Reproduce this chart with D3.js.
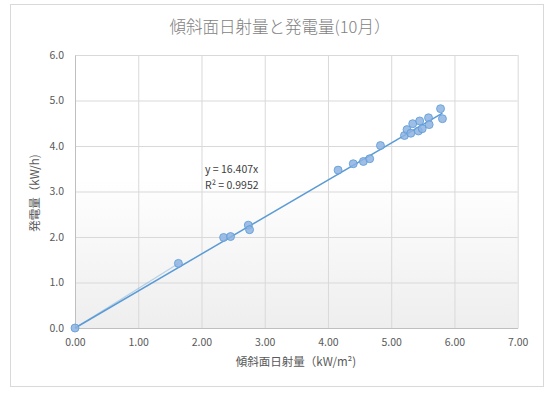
<!DOCTYPE html>
<html>
<head>
<meta charset="utf-8">
<script src="https://cdn.jsdelivr.net/npm/d3@7"></script>
<style>
    body { margin: 0; background: #fff; }
    text { font-family: "Noto Sans CJK JP", "Noto Sans", sans-serif; }
</style>
</head>
<body>
<div id="chart"></div>
<script>
// irradiance (kW/m2) vs generation (kW/h), October
var irradiance = [0, 1.635, 2.35, 2.46, 2.74, 2.76, 4.16, 4.40, 4.56, 4.66, 4.83,
    5.21, 5.25, 5.31, 5.34, 5.43, 5.45, 5.49, 5.59, 5.60, 5.78, 5.81];
var generation = [0, 1.42, 1.99, 2.01, 2.26, 2.16, 3.47, 3.61, 3.66, 3.72, 4.01,
    4.23, 4.36, 4.28, 4.49, 4.33, 4.55, 4.38, 4.62, 4.47, 4.82, 4.60];
var xTicks = [0, 1, 2, 3, 4, 5, 6, 7];
var yTicks = [0, 1, 2, 3, 4, 5, 6];
var trendSlope = 0.813;
var trendLabels = ['y = 16.407x', 'R² = 0.9952'];

window.onload = start;

function start() {
    var width = 555;
    var height = 396;
    var plotLeft = 75, plotRight = 517.7, plotTop = 55, plotBottom = 328;

    var svg = d3.select('#chart').append('svg')
        .attr('width', width)
        .attr('height', height);

    // outer border
    svg.append('rect')
        .attr('x', 10.5).attr('y', 4.5)
        .attr('width', 533).attr('height', 382)
        .attr('fill', '#fff')
        .attr('stroke', '#d9d9d9');

    var grad = svg.append('defs').append('linearGradient')
        .attr('id', 'bg')
        .attr('x1', 0).attr('y1', 0).attr('x2', 0).attr('y2', 1);
    grad.append('stop').attr('offset', '0.45').attr('stop-color', '#ffffff');
    grad.append('stop').attr('offset', '1').attr('stop-color', '#eeeeee');

    var xScale = d3.scaleLinear().domain([0, 7]).range([plotLeft, plotRight]);
    var yScale = d3.scaleLinear().domain([0, 6]).range([plotBottom, plotTop]);

    svg.append('rect')
        .attr('x', plotLeft).attr('y', plotTop)
        .attr('width', plotRight - plotLeft).attr('height', plotBottom - plotTop)
        .attr('fill', 'url(#bg)');

    // gridlines
    svg.append('g')
        .attr('transform', 'translate(0,' + plotBottom + ')')
        .call(d3.axisBottom(xScale).tickValues(xTicks).tickSize(-(plotBottom - plotTop)).tickFormat(''))
        .call(function(g) {
            g.select('.domain').remove();
            g.selectAll('line').attr('stroke', '#d9d9d9');
        });
    svg.append('g')
        .attr('transform', 'translate(' + plotLeft + ',0)')
        .call(d3.axisLeft(yScale).tickValues(yTicks).tickSize(-(plotRight - plotLeft)).tickFormat(''))
        .call(function(g) {
            g.select('.domain').remove();
            g.selectAll('line').attr('stroke', '#d9d9d9');
        });

    // axes
    svg.append('g')
        .attr('transform', 'translate(0,' + plotBottom + ')')
        .call(d3.axisBottom(xScale).tickValues(xTicks).tickSize(0).tickPadding(11).tickFormat(d3.format('.2f')))
        .call(function(g) {
            g.select('.domain').attr('stroke', '#bfbfbf');
            g.selectAll('text').attr('fill', '#595959').attr('font-size', '10.5px');
        });
    svg.append('g')
        .attr('transform', 'translate(' + plotLeft + ',0)')
        .call(d3.axisLeft(yScale).tickValues(yTicks).tickSize(0).tickPadding(11).tickFormat(d3.format('.1f')))
        .call(function(g) {
            g.select('.domain').attr('stroke', '#bfbfbf');
            g.selectAll('text').attr('fill', '#595959').attr('font-size', '10.5px');
        });

    // trendline (plus the faint line to the first point)
    var xMax = d3.max(irradiance);
    svg.append('line')
        .attr('x1', xScale(0)).attr('y1', yScale(0))
        .attr('x2', xScale(irradiance[1])).attr('y2', yScale(generation[1]))
        .attr('stroke', '#5b9bd5').attr('stroke-opacity', 0.4).attr('stroke-width', 1.2);
    svg.append('line')
        .attr('x1', xScale(0)).attr('y1', yScale(0))
        .attr('x2', xScale(xMax)).attr('y2', yScale(trendSlope * xMax))
        .attr('stroke', '#5b9bd5').attr('stroke-width', 1.5);

    // points
    svg.append('g')
        .selectAll('circle')
        .data(irradiance)
        .enter()
        .append('circle')
        .attr('cx', function(d) { return xScale(d); })
        .attr('cy', function(d, i) { return yScale(generation[i]); })
        .attr('r', 4)
        .attr('fill', '#8db3e2')
        .attr('fill-opacity', 0.85)
        .attr('stroke', '#5b9bd5')
        .attr('stroke-width', 0.8);

    // trend label
    svg.append('g')
        .selectAll('text')
        .data(trendLabels)
        .enter()
        .append('text')
        .attr('x', 205)
        .attr('y', function(d, i) { return 173 + i * 15.5; })
        .attr('fill', '#404040')
        .attr('font-size', '10.5px')
        .text(function(d) { return d; });

    // titles
    svg.append('text')
        .attr('x', 280).attr('y', 33)
        .attr('text-anchor', 'middle')
        .attr('fill', '#7f7f7f')
        .attr('font-size', '16.5px')
        .attr('font-weight', 300)
        .text('傾斜面日射量と発電量(10月）');
    svg.append('text')
        .attr('x', 296).attr('y', 366)
        .attr('text-anchor', 'middle')
        .attr('fill', '#595959')
        .attr('font-size', '11.5px')
        .text('傾斜面日射量（kW/m²)');
    svg.append('text')
        .attr('transform', 'translate(39,' + 193 + ') rotate(-90)')
        .attr('text-anchor', 'middle')
        .attr('fill', '#595959')
        .attr('font-size', '11.5px')
        .text('発電量（kW/h)');
}
</script>
</body>
</html>
